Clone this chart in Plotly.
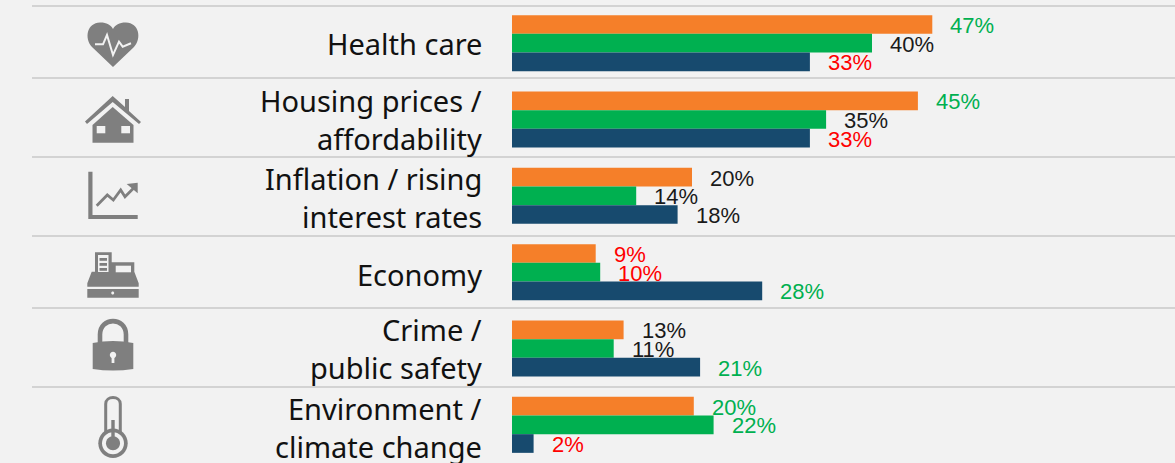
import math
import plotly.graph_objects as go

W, H = 1175, 463
categories = ["Health care", "Housing prices / affordability", "Inflation / rising interest rates",
              "Economy", "Crime / public safety", "Environment / climate change"]
category_lines = [["Health care"], ["Housing prices /", "affordability"], ["Inflation / rising", "interest rates"],
                  ["Economy"], ["Crime /", "public safety"], ["Environment /", "climate change"]]
series_a = [46.7, 45.1, 20.0, 9.3, 12.4, 20.2]
series_b = [40.0, 34.9, 13.8, 9.8, 11.3, 22.4]
series_c = [33.1, 33.1, 18.4, 27.8, 20.9, 2.4]
labels_a = ["47%", "45%", "20%", "9%", "13%", "20%"]
labels_b = ["40%", "35%", "14%", "10%", "11%", "22%"]
labels_c = ["33%", "33%", "18%", "28%", "21%", "2%"]
GREEN_T, BLACK_T, RED_T = "#00B050", "#1a1a1a", "#FF0000"
tones_a = [GREEN_T, GREEN_T, BLACK_T, RED_T, BLACK_T, GREEN_T]
tones_b = [BLACK_T, BLACK_T, BLACK_T, RED_T, BLACK_T, GREEN_T]
tones_c = [RED_T, RED_T, BLACK_T, GREEN_T, GREEN_T, RED_T]
separator_rows = [6, 78, 157, 236, 308, 387]
text_nudge = [2, 0, -2, 0, 0, -3]

BG = "#F2F2F2"
GRAY = "#7F7F7F"
BAR_COLORS = ["#F57F29", "#00B050", "#174A6E"]
CAT_FONT = dict(family="Noto Sans", size=29, color="#111111")
VAL_FONT = "Liberation Sans"
VAL_SIZE = 22


def pth(s):
    """Convert an absolute path written in pixels to paper coordinates."""
    out, is_x = [], True
    for tok in s.split():
        if tok.isalpha():
            out.append(tok)
            is_x = True
        else:
            v = float(tok)
            out.append(f"{v / W:.5f}" if is_x else f"{1 - v / H:.5f}")
            is_x = not is_x
    return " ".join(out)


def circle(cx, cy, r):
    k = 0.5523 * r
    return (f"M {cx - r} {cy} C {cx - r} {cy - k} {cx - k} {cy - r} {cx} {cy - r} "
            f"C {cx + k} {cy - r} {cx + r} {cy - k} {cx + r} {cy} "
            f"C {cx + r} {cy + k} {cx + k} {cy + r} {cx} {cy + r} "
            f"C {cx - k} {cy + r} {cx - r} {cy + k} {cx - r} {cy} Z")


def rect(x0, y0, x1, y1):
    return f"M {x0} {y0} L {x1} {y0} L {x1} {y1} L {x0} {y1} Z"


shapes = []


def fill(s, c=GRAY):
    shapes.append(dict(type="path", xref="paper", yref="paper", path=pth(s), fillcolor=c, line=dict(width=0)))


def stroke(s, c=GRAY, w=2.0):
    shapes.append(dict(type="path", xref="paper", yref="paper", path=pth(s),
                       line=dict(color=c, width=w), fillcolor="rgba(0,0,0,0)"))


for py in separator_rows:
    shapes.append(dict(type="line", xref="paper", yref="paper", x0=32 / W, x1=1, y0=1 - py / H, y1=1 - py / H,
                       line=dict(color="#C9C9C9", width=1.5)))

# heart
fill("M 113 67 L 92 47 C 84 38 87 23 100 22.5 C 106 22.3 111 25 113 29 C 115 25 120 22.3 126 22.5 C 139 23 142 38 134 47 Z")
stroke("M 95 44.3 L 103 44.3 L 107 35 L 113 55 L 119 41.7 L 122.7 46.7 L 131 43.3", BG, 2)
# house
fill("M 85 121.5 L 112.7 96 L 125 107 L 125 99 L 129 99 L 129 111 L 141 122 L 139 124 L 112.7 102 L 87 124 Z")
fill("M 92.5 125 L 112.7 107 L 133.5 125 L 133.5 142.7 L 92.5 142.7 Z")
fill(rect(96.7, 126, 105.3, 133.3), BG)
fill(rect(121.3, 126, 130, 133.3), BG)
# rising chart
fill("M 88.3 171.7 L 92.5 171.7 L 92.5 215 L 137.7 215 L 137.7 219 L 88.3 219 Z")
stroke("M 96.7 205.7 L 107.3 195 L 113.3 200 L 120.7 190 L 125 196.7 L 135 186.7", GRAY, 2.8)
fill("M 126.7 184 L 137.7 182.7 L 137.7 193.3 Z")
# cash register
fill(rect(87.3, 289, 138.7, 297.7))
fill(circle(112.7, 293, 1.5), BG)
fill("M 91.7 271.7 L 87.3 283.3 L 87.3 286.7 L 138.7 286.7 L 138.7 283.3 L 134.3 271.7 L 134.3 262.3 "
     "L 111.7 262.3 L 111.7 252.3 L 95 252.3 L 95 271.7 Z")
fill(rect(98, 255, 108.5, 272), BG)
for ry in (258, 263, 268):
    fill(rect(99.5, ry, 107, ry + 2.8))
fill(rect(115.7, 265.7, 131, 272.3), BG)
# padlock
stroke("M 100 344 L 100 334.6 C 100 316.6 126 316.6 126 334.6 L 126 344", GRAY, 4.6)
fill("M 92.7 343 Q 113 339 133.3 343 L 133.3 369 Q 113 372 92.7 369 Z")
fill(circle(113, 355, 3.2), BG)
fill(rect(111.6, 356, 114.4, 363), BG)
# thermometer
stroke("M 105.7 435 L 105.7 404 C 105.7 395.3 120.3 395.3 120.3 404 L 120.3 435", GRAY, 3)
fill(circle(113, 443.3, 14.7))
fill(circle(113, 443.3, 11), BG)
fill(circle(113, 443.3, 7))
fill(rect(111.3, 420, 114.7, 443))

fig = go.Figure()
series = [series_a, series_b, series_c]
for vals, col in zip(series, BAR_COLORS):
    fig.add_trace(go.Bar(y=categories, x=vals, orientation="h", marker=dict(color=col, line=dict(width=0)),
                         hoverinfo="skip"))

annotations = []
for cat, lines, nudge in zip(categories, category_lines, text_nudge):
    shifts = [-2] if len(lines) == 1 else [19, -19]
    for line, sh in zip(lines, shifts):
        annotations.append(dict(text=line, x=483 / W, xref="paper", y=cat, yref="y", xanchor="right",
                                yanchor="middle", yshift=sh + nudge,
                                showarrow=False, font=CAT_FONT, borderpad=0))
BAR_STEP = 18.7
for vals, texts, tones, ysh in zip(series, (labels_a, labels_b, labels_c), (tones_a, tones_b, tones_c),
                                   (BAR_STEP - 1, -1, -BAR_STEP - 1)):
    for cat, v, t, c in zip(categories, vals, texts, tones):
        annotations.append(dict(text=t, x=v, xref="x", y=cat, yref="y", xanchor="left", yanchor="middle",
                                xshift=17, yshift=ysh, showarrow=False, borderpad=0,
                                font=dict(family=VAL_FONT, size=VAL_SIZE, color=c)))

fig.update_layout(
    width=W, height=H, margin=dict(l=0, r=0, t=0, b=0), autosize=False,
    paper_bgcolor=BG, plot_bgcolor=BG, showlegend=False, barmode="group", bargap=0.266, bargroupgap=0,
    xaxis=dict(domain=[512 / W, 1], range=[0, (W - 512) / 9.0], visible=False, fixedrange=True),
    yaxis=dict(domain=[0, 458 / H], range=[5.5, -0.5], type="category", visible=False, fixedrange=True),
    shapes=shapes, annotations=annotations,
)
fig.write_html("out.html", config=dict(displayModeBar=False),
               post_script="document.body.style.margin='0';document.documentElement.style.overflow='hidden';")
